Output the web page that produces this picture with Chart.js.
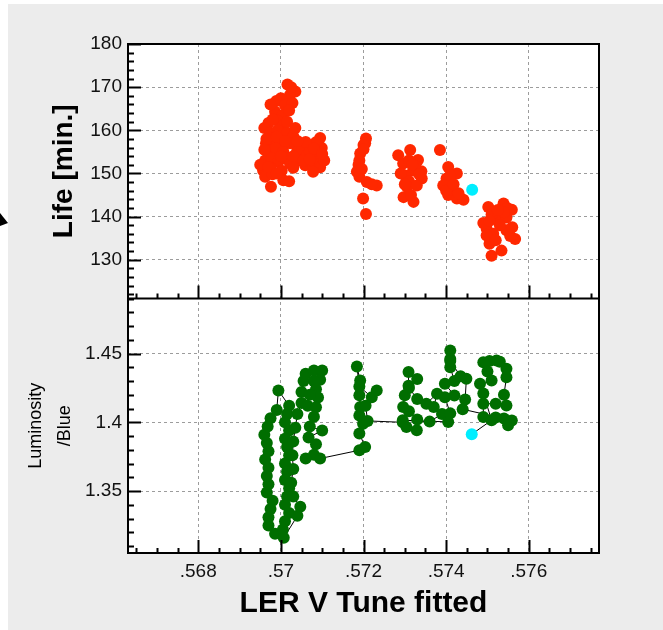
<!DOCTYPE html>
<html>
<head>
<meta charset="utf-8">
<title>LER V tune vs lifetime and luminosity</title>
<script src="https://cdn.jsdelivr.net/npm/chart.js@4.4.3/dist/chart.umd.min.js"></script>
<style>
  html, body { margin: 0; padding: 0; background: #fff; }
  #panel { position: absolute; left: 8px; top: 4px; width: 655px; height: 626px; background: #ececec; }
  #chart { position: absolute; left: 0; top: 0; }
</style>
</head>
<body>
<div id="panel"></div>
<canvas id="chart" width="663" height="630"></canvas>
<script>
// Tick labels
const tuneTicks = [0.568, 0.570, 0.572, 0.574, 0.576];
const lifeTicks = [130, 140, 150, 160, 170, 180];
const lumiTicks = [1.35, 1.40, 1.45];

// Beam lifetime samples (last one is the current reading)
const lifeTune = [
  0.57016, 0.57035, 0.57022, 0.57000, 0.56989, 0.57010, 0.57028, 0.56986, 0.57004, 0.57020,
  0.56970, 0.56992, 0.57006, 0.56960, 0.56974, 0.56992, 0.57015, 0.57030, 0.56981, 0.56964,
  0.57000, 0.57022, 0.57040, 0.56970, 0.56988, 0.57006, 0.57039, 0.57052, 0.57063, 0.57083,
  0.57090, 0.57095, 0.57099, 0.57085, 0.56962, 0.56978, 0.56994, 0.57010, 0.57022, 0.57045,
  0.57059, 0.57075, 0.57095, 0.57105, 0.56957, 0.56976, 0.57002, 0.57078, 0.56962, 0.56980,
  0.57006, 0.57020, 0.56976, 0.57030, 0.56950, 0.57070, 0.57060,
  0.56965, 0.56980, 0.56990, 0.57010, 0.57015, 0.56970, 0.56990, 0.57040, 0.57055, 0.57070,
  0.57080, 0.57100, 0.56960, 0.57030, 0.57000, 0.57025, 0.57035, 0.56975,
  0.57206, 0.57204, 0.57200, 0.57192, 0.57190, 0.57188, 0.57184, 0.57190, 0.57208, 0.57232,
  0.57220, 0.57199, 0.57206, 0.57200, 0.57196,
  0.57284, 0.57313, 0.57332, 0.57296, 0.57310, 0.57320, 0.57341, 0.57301, 0.57310, 0.57305,
  0.57329, 0.57297, 0.57321, 0.57315, 0.57340, 0.57290, 0.57325, 0.57300, 0.57318, 0.57335,
  0.57385, 0.57405, 0.57426, 0.57401, 0.57410, 0.57393, 0.57413, 0.57405, 0.57426, 0.57442,
  0.57430, 0.57400, 0.57418,
  0.57502, 0.57539, 0.57559, 0.57548, 0.57522, 0.57546, 0.57510, 0.57498, 0.57514, 0.57546,
  0.57567, 0.57530, 0.57490, 0.57498, 0.57505, 0.57520, 0.57510, 0.57534, 0.57555, 0.57560,
  0.57540, 0.57525, 0.57505,
  0.57463
];
const lifeMinutes = [
  170.6, 169.0, 168.2, 167.4, 166.8, 165.8, 166.3, 164.3, 163.4, 164.6,
  161.7, 162.2, 161.2, 160.5, 159.4, 160.0, 159.4, 158.6, 157.7, 157.0,
  157.4, 157.0, 156.2, 155.4, 155.8, 155.0, 155.0, 155.6, 154.2, 153.5,
  156.5, 158.2, 155.9, 157.2, 153.0, 153.6, 152.7, 153.6, 152.3, 153.0,
  151.9, 152.4, 151.4, 153.0, 150.7, 151.2, 150.6, 150.4, 149.2, 149.8,
  148.4, 148.2, 146.9, 154.0, 152.0, 155.0, 157.3,
  158.0, 162.5, 158.5, 157.5, 162.0, 151.5, 150.0, 157.5, 153.0, 153.3,
  155.8, 154.5, 155.5, 151.3, 154.0, 170.0, 160.5, 166.0,
  158.1, 157.0, 156.6, 154.6, 153.0, 152.0, 150.4, 149.2, 148.0, 147.2,
  147.5, 144.2, 140.6, 155.6, 151.0,
  154.2, 155.4, 153.1, 152.3, 153.0, 150.7, 148.8, 149.5, 148.2, 146.9,
  147.2, 144.5, 143.4, 145.0, 150.5, 150.0, 151.8, 147.5, 152.0, 149.8,
  155.4, 151.5, 150.0, 148.8, 149.6, 147.2, 146.1, 145.0, 144.2, 143.9,
  145.4, 146.0, 147.5,
  142.2, 143.0, 141.6, 142.0, 139.5, 139.8, 140.5, 137.2, 136.0, 136.8,
  134.8, 138.0, 138.5, 135.6, 133.7, 134.5, 130.9, 132.1, 135.5, 137.5,
  141.0, 141.5, 139.0,
  146.2
];

// Luminosity / beta-blue samples in time order (joined by a line, last is current)
const lumiTune = [
  0.56986, 0.56970, 0.56970, 0.56975, 0.56980, 0.56966, 0.56970, 0.56966, 0.56970, 0.56962,
  0.56970, 0.56966, 0.56960, 0.56968, 0.56975, 0.56990, 0.56994,
  0.57020, 0.57015, 0.57010, 0.57020, 0.57010, 0.57015, 0.57020, 0.57010, 0.57015, 0.57010,
  0.57020, 0.57015, 0.57010, 0.57020, 0.57010, 0.57005, 0.57007,
  0.57040, 0.57047, 0.57030, 0.57025, 0.57030, 0.57028, 0.57030, 0.57035, 0.57040, 0.57050,
  0.57050, 0.57055, 0.57060, 0.57080, 0.57100, 0.57095, 0.57080, 0.57085, 0.57090, 0.57070,
  0.57065, 0.57085, 0.57080, 0.57070, 0.57100, 0.57067, 0.57085, 0.57080, 0.57060, 0.57095,
  0.57190, 0.57204, 0.57190, 0.57199, 0.57190, 0.57192, 0.57190, 0.57192, 0.57184, 0.57190,
  0.57220, 0.57232, 0.57205, 0.57210,
  0.57295, 0.57304, 0.57329, 0.57330, 0.57310, 0.57296, 0.57300, 0.57309, 0.57309, 0.57330,
  0.57310, 0.57330, 0.57352, 0.57378, 0.57370, 0.57390, 0.57360, 0.57295,
  0.57405, 0.57410, 0.57397, 0.57420, 0.57397, 0.57420, 0.57410, 0.57410, 0.57410, 0.57410,
  0.57435, 0.57449, 0.57446, 0.57440,
  0.57540, 0.57559, 0.57550, 0.57520, 0.57490, 0.57490, 0.57520, 0.57546, 0.57540, 0.57546,
  0.57546, 0.57530, 0.57522, 0.57505, 0.57490, 0.57500, 0.57510, 0.57482, 0.57490, 0.57510,
  0.57462
];
const lumiBlue = [
  1.3190, 1.3250, 1.3310, 1.3370, 1.3430, 1.3490, 1.3550, 1.3610, 1.3670, 1.3730,
  1.3790, 1.3850, 1.3910, 1.3970, 1.4030, 1.4090, 1.4232,
  1.4120, 1.4060, 1.4000, 1.3940, 1.3880, 1.3820, 1.3760, 1.3700, 1.3640, 1.3580,
  1.3520, 1.3460, 1.3400, 1.3340, 1.3280, 1.3220, 1.3160,
  1.3320, 1.3386, 1.3460, 1.3560, 1.3660, 1.3760, 1.3860, 1.3960, 1.4060, 1.4140,
  1.4220, 1.4300, 1.4353, 1.4377, 1.4377, 1.4310, 1.4300, 1.4240, 1.4180, 1.4200,
  1.4120, 1.4110, 1.4040, 1.3970, 1.3940, 1.3890, 1.3840, 1.3765, 1.3737, 1.3737,
  1.3797, 1.3821, 1.3918, 1.3990, 1.4050, 1.4111, 1.4196, 1.4304, 1.4406, 1.4260,
  1.4183, 1.4232, 1.4120, 1.4010,
  1.4000, 1.3966, 1.3942, 1.4020, 1.4080, 1.4111, 1.4196, 1.4266, 1.4365, 1.4315,
  1.4250, 1.4170, 1.4135, 1.4208, 1.4111, 1.4060, 1.4005, 1.4015,
  1.4003, 1.4065, 1.4183, 1.4195, 1.4280, 1.4300, 1.4400, 1.4460, 1.4522, 1.4445,
  1.4335, 1.4317, 1.4165, 1.4095,
  1.4027, 1.4014, 1.3978, 1.4035, 1.4038, 1.4135, 1.4135, 1.4123, 1.4200, 1.4328,
  1.4389, 1.4440, 1.4450, 1.4445, 1.4437, 1.4370, 1.4304, 1.4280, 1.4210, 1.4015,
  1.3913
];

const FONT = "'Liberation Sans', Arial, Helvetica, sans-serif";
const RED = "#ff2800";
const GREEN = "#006e00";
const CYAN = "#00eeff";
const GRID = "#9c9c9c";

function zip(xs, ys) {
  return xs.map((x, i) => ({ x, y: ys[i] }));
}

function tuneLabel(value) {
  return value.toFixed(3).replace(/0+$/, "").replace(/^0/, "");
}

function plainLabel(value) {
  return String(value);
}

function fixedTicks(values) {
  return (scale) => {
    scale.ticks = values.map((value) => ({ value }));
  };
}

// last sample of each series is the live reading
function latestHighlight(color) {
  return (ctx) =>
    ctx.dataIndex === ctx.dataset.data.length - 1 ? CYAN : color;
}

const tickFont = { family: FONT, size: 19 };

const panelBackground = {
  id: "panelBackground",
  beforeDraw(chart) {
    const { ctx, chartArea: a } = chart;
    ctx.save();
    ctx.fillStyle = "#fff";
    ctx.fillRect(a.left, a.top, a.right - a.left, a.bottom - a.top);
    // stray pointer in the left margin
    ctx.fillStyle = "#000";
    ctx.beginPath();
    ctx.moveTo(0, 213);
    ctx.lineTo(8, 223);
    ctx.lineTo(0, 226);
    ctx.closePath();
    ctx.fill();
    ctx.restore();
  },
};

function eachStep(min, max, step, fn) {
  for (let k = Math.ceil(min / step - 1e-6); k * step <= max + 1e-9; k++) {
    fn(k * step);
  }
}

function isMajor(value, majors) {
  return majors.some((m) => Math.abs(m - value) < 1e-7);
}

const frameAndTicks = {
  id: "frameAndTicks",
  afterDraw(chart) {
    const { ctx, chartArea: a, scales } = chart;
    const { x, life, lumi } = scales;
    ctx.save();
    ctx.strokeStyle = "#000";
    ctx.lineWidth = 2;
    ctx.beginPath();

    // inward ticks on the left edges
    [[life, 2, lifeTicks], [lumi, 0.01, lumiTicks]].forEach(([scale, step, majors]) => {
      eachStep(scale.min, scale.max, step, (v) => {
        const py = Math.round(scale.getPixelForValue(v)) + 0.5;
        const len = isMajor(v, majors) ? 13 : 6;
        ctx.moveTo(a.left, py);
        ctx.lineTo(a.left + len, py);
      });
    });

    // upward ticks along the bottom of each panel
    [life.bottom, lumi.bottom].forEach((bottom) => {
      eachStep(x.min, x.max, 0.0005, (v) => {
        const px = Math.round(x.getPixelForValue(v)) + 0.5;
        const len = isMajor(v, tuneTicks) ? 13 : 5;
        ctx.moveTo(px, bottom);
        ctx.lineTo(px, bottom - len);
      });
    });
    ctx.stroke();

    ctx.strokeRect(a.left, a.top, a.right - a.left, a.bottom - a.top);
    ctx.beginPath();
    ctx.moveTo(a.left, life.bottom);
    ctx.lineTo(a.right, life.bottom);
    ctx.stroke();
    ctx.restore();
  },
};

new Chart(document.getElementById("chart"), {
  type: "scatter",
  data: {
    datasets: [
      {
        label: "Life",
        data: zip(lifeTune, lifeMinutes),
        xAxisID: "x",
        yAxisID: "life",
        pointRadius: 6,
        pointBorderWidth: 0,
        pointBackgroundColor: latestHighlight(RED),
      },
      {
        label: "Luminosity/Blue",
        data: zip(lumiTune, lumiBlue),
        xAxisID: "x",
        yAxisID: "lumi",
        showLine: true,
        borderColor: "#000",
        borderWidth: 1,
        pointRadius: 6,
        pointBorderWidth: 0,
        pointBackgroundColor: latestHighlight(GREEN),
      },
    ],
  },
  options: {
    responsive: false,
    animation: false,
    layout: { padding: { left: 0, top: 44, right: 64, bottom: 0 } },
    plugins: {
      legend: { display: false },
      tooltip: { enabled: false },
    },
    scales: {
      x: {
        type: "linear",
        position: "bottom",
        min: 0.5663,
        max: 0.5777,
        afterBuildTicks: fixedTicks(tuneTicks),
        afterFit(scale) {
          scale.height = 77;
        },
        ticks: { font: tickFont, color: "#111", padding: 7, callback: tuneLabel },
        grid: { color: GRID, drawTicks: false },
        border: { display: false, dash: [3, 3] },
        title: {
          display: true,
          text: "LER V Tune fitted",
          color: "#000",
          font: { family: FONT, size: 30, weight: "bold" },
          padding: { top: 0, bottom: 8 },
        },
      },
      lumi: {
        type: "linear",
        position: "left",
        stack: "tune",
        stackWeight: 1,
        min: 1.305,
        max: 1.49,
        afterBuildTicks: fixedTicks(lumiTicks),
        afterFit(scale) {
          scale.width = 128;
        },
        ticks: { font: tickFont, color: "#111", padding: 6, callback: plainLabel },
        grid: { color: GRID, drawTicks: false },
        border: { display: false, dash: [3, 3] },
        title: {
          display: true,
          text: ["Luminosity", "/Blue"],
          color: "#000",
          font: { family: FONT, size: 18, lineHeight: 1.6 },
          padding: { top: 22, bottom: 0 },
        },
      },
      life: {
        type: "linear",
        position: "left",
        stack: "tune",
        stackWeight: 1,
        min: 121,
        max: 180,
        afterBuildTicks: fixedTicks(lifeTicks),
        afterFit(scale) {
          scale.width = 128;
        },
        ticks: { font: tickFont, color: "#111", padding: 6, callback: plainLabel },
        grid: { color: GRID, drawTicks: false },
        border: { display: false, dash: [3, 3] },
        title: {
          display: true,
          text: "Life [min.]",
          color: "#000",
          font: { family: FONT, size: 28, weight: "bold", lineHeight: 1.2 },
          padding: { top: 47, bottom: 0 },
        },
      },
    },
  },
  plugins: [panelBackground, frameAndTicks],
});
</script>
</body>
</html>
